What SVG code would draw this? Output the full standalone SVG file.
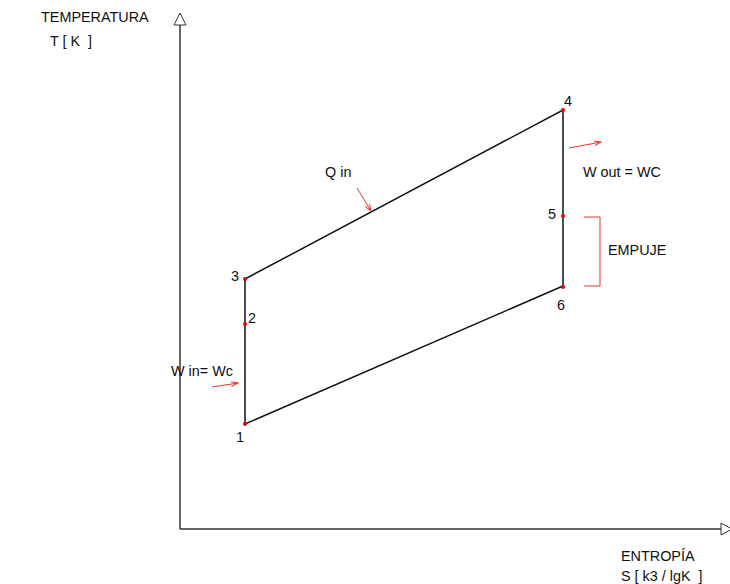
<svg xmlns="http://www.w3.org/2000/svg" width="730" height="584" viewBox="0 0 730 584">
<defs>
<style>
text{font-family:"Liberation Sans",Arial,sans-serif;font-size:14.4px;fill:#111;white-space:pre}
.axis{stroke:#333;stroke-width:1.5;fill:none}
.cyc{stroke:#111;stroke-width:1.5;fill:none}
.red{stroke:#e33;stroke-width:1;fill:none}
.pt{fill:#e00}
</style>
<marker id="ah" markerWidth="8" markerHeight="6" refX="7" refY="3" orient="auto" markerUnits="userSpaceOnUse">
<path d="M0,0.5 L7,3 L0,5.5" fill="none" stroke="#e33" stroke-width="1"/>
</marker>
</defs>
<g id="axes">
<line class="axis" x1="180" y1="25" x2="180" y2="529"/>
<path d="M174,25 L180,13 L186,25 Z" fill="#fff" stroke="#333" stroke-width="1"/>
<line class="axis" x1="180" y1="529" x2="721" y2="529" stroke="#666"/>
<path d="M721,523 L732,529 L721,535 Z" fill="#fff" stroke="#333" stroke-width="1"/>
<text x="41" y="22">TEMPERATURA</text>
<text x="50" y="46" xml:space="preserve">T [ K  ]</text>
<text x="621" y="561">ENTROPÍA</text>
<text x="621" y="581" xml:space="preserve">S [ k3 / lgK  ]</text>
</g>
<g id="connectors">
<polyline class="cyc" points="245,424 245,279 563,110 563,286 245,424"/>
<line class="red" x1="357" y1="188" x2="371" y2="211" marker-end="url(#ah)"/>
<line class="red" x1="569" y1="148" x2="601" y2="142" marker-end="url(#ah)"/>
<line class="red" x1="212" y1="387" x2="238" y2="383" marker-end="url(#ah)"/>
<polyline class="red" points="584,217 600,217 600,286 584,286"/>
</g>
<g id="p1"><circle class="pt" cx="245" cy="424" r="2"/><text x="236" y="442">1</text></g>
<g id="p2"><circle class="pt" cx="245" cy="324" r="2"/><text x="248" y="323">2</text></g>
<g id="p3"><circle class="pt" cx="245" cy="279" r="2"/><text x="231" y="281">3</text></g>
<g id="p4"><circle class="pt" cx="563" cy="110" r="2"/><text x="564" y="106">4</text></g>
<g id="p5"><circle class="pt" cx="563" cy="216" r="2"/><text x="548" y="219">5</text></g>
<g id="p6"><circle class="pt" cx="563" cy="287" r="2"/><text x="557" y="310">6</text></g>
<g id="labels">
<text x="325" y="177">Q in</text>
<text x="583" y="177">W out = WC</text>
<text x="171" y="376">W in= Wc</text>
<text x="608" y="255">EMPUJE</text>
</g>
</svg>
